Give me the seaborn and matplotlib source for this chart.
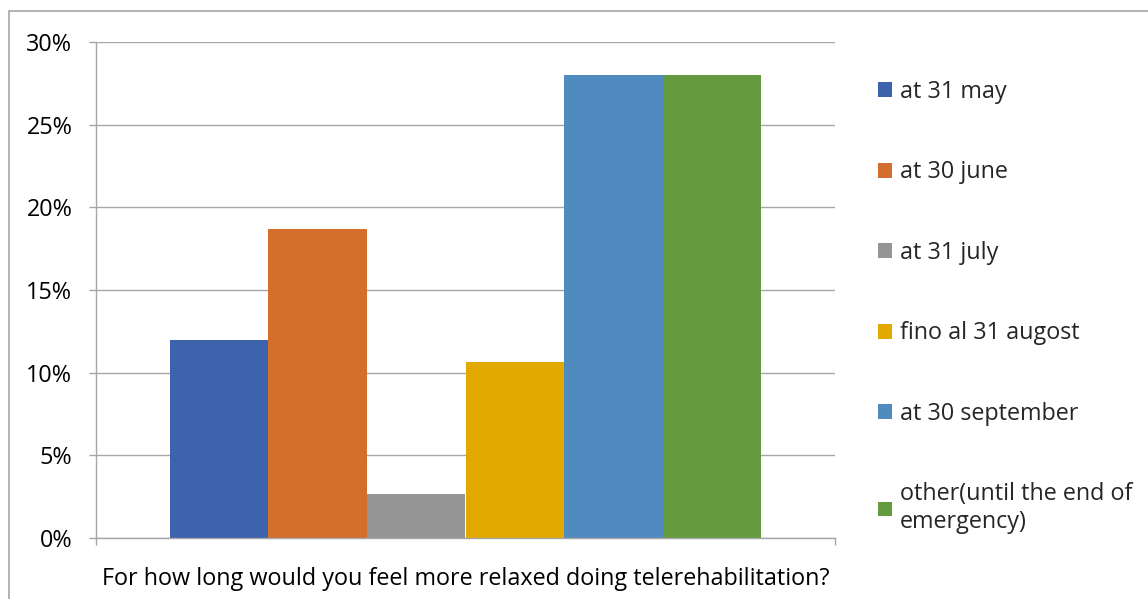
import matplotlib
matplotlib.use("Agg")
import matplotlib.pyplot as plt
import matplotlib.patches as mpatches
from matplotlib.ticker import PercentFormatter, FixedLocator
import seaborn as sns
import pandas as pd

question = "For how long would you feel more relaxed doing telerehabilitation?"
series = ["at 31 may", "at 30 june", "at 31 july", "fino al 31 augost",
          "at 30 september", "other(until the end of\nemergency)"]
values = [12.0, 18.67, 2.67, 10.67, 28.0, 28.0]
colors = ["#3D63AD", "#D46E2C", "#959595", "#E2AA00", "#508BC0", "#649B3E"]

df = pd.DataFrame({"q": [question] * len(series), "series": series, "value": values})

sns.set_theme(style="white")
plt.rcParams["font.family"] = ["Open Sans", "DejaVu Sans"]

FS = 16.8

fig = plt.figure(figsize=(11.48, 5.99), dpi=100)
ax = fig.add_axes([96 / 1148, 1 - 538 / 599, (835 - 96) / 1148, (538 - 42) / 599])

sns.barplot(data=df, x="q", y="value", hue="series", hue_order=series,
            palette=colors, width=0.8, saturation=1, ax=ax, legend=True,
            linewidth=0, edgecolor="none")

ax.set_xlim(-0.5, 0.5)
ax.set_ylim(0, 30)
ax.set_yticks([0, 5, 10, 15, 20, 25, 30])
ax.yaxis.set_major_formatter(PercentFormatter(decimals=0))
ax.grid(axis="y", color="#A6A6A6", lw=1)
ax.set_axisbelow(True)
ax.set_xlabel("")
ax.set_ylabel("")

grid_c = "#A6A6A6"
for s in ["top", "right"]:
    ax.spines[s].set_visible(False)
for s in ["left", "bottom"]:
    ax.spines[s].set_color(grid_c)
    ax.spines[s].set_linewidth(1)

ax.tick_params(axis="y", which="major", length=5, color=grid_c, width=1,
               labelsize=FS, labelcolor="black", pad=12, left=True)
ax.xaxis.set_minor_locator(FixedLocator([-0.5, 0.5]))
ax.tick_params(axis="x", which="minor", length=5, color=grid_c, width=1, bottom=True)
ax.tick_params(axis="x", which="major", length=0, labelsize=FS,
               labelcolor="black", pad=21)

handles, labels = ax.get_legend_handles_labels()
ax.get_legend().remove()
fig.legend(handles, labels, loc="upper left",
           bbox_to_anchor=(878 / 1148, 1 - 80 / 599),
           frameon=False, fontsize=FS, handlelength=0.6, handleheight=0.6,
           handletextpad=0.35, labelspacing=2.42, borderpad=0, borderaxespad=0)

fig.add_artist(mpatches.Rectangle((9 / 1148, -0.1), 1.2, 1 - 11 / 599 + 0.1,
                                  transform=fig.transFigure, fill=False,
                                  edgecolor="#A6A6A6", lw=1.2))

fig.savefig("out.png", dpi=100)
